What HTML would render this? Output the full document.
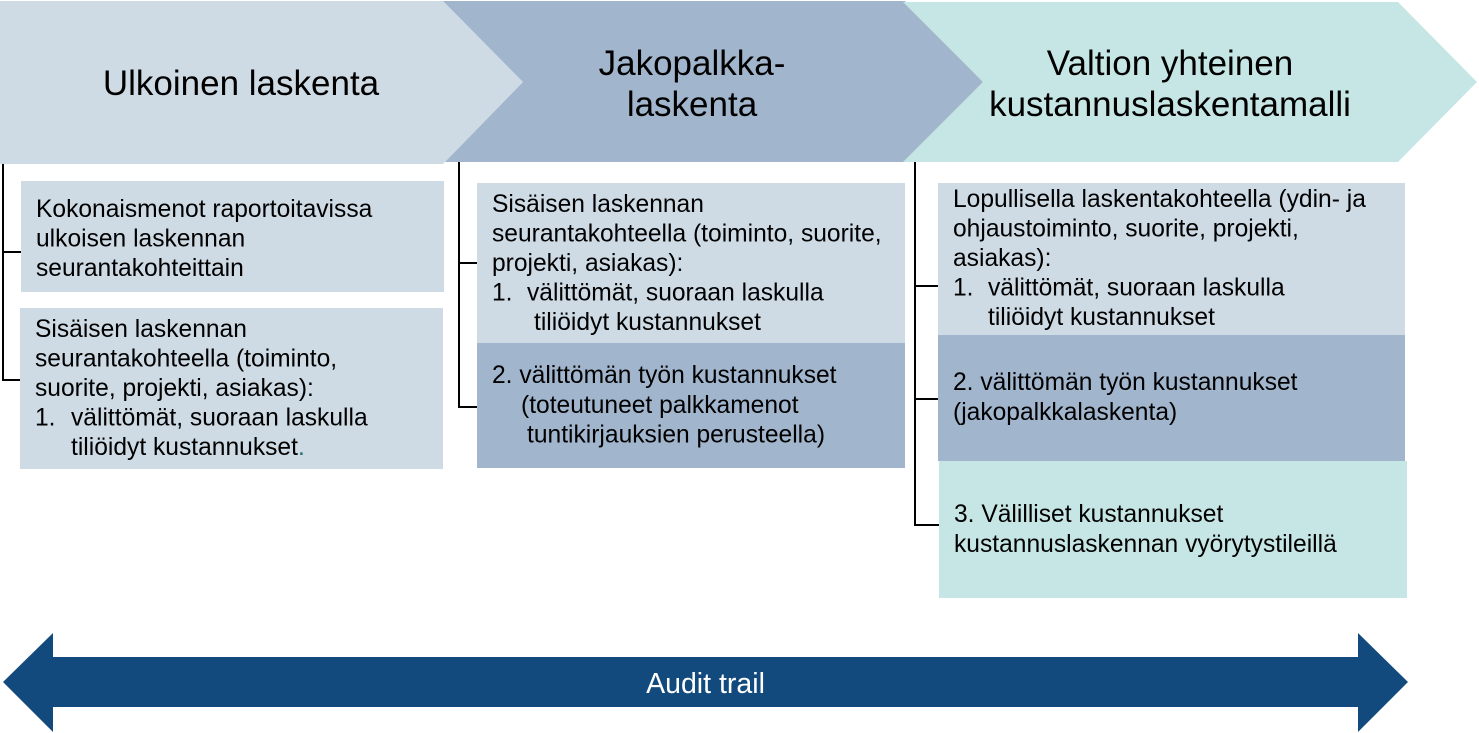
<!DOCTYPE html>
<html>
<head>
<meta charset="utf-8">
<style>
  html, body { margin: 0; padding: 0; background: #ffffff; }
  body { width: 1479px; height: 733px; overflow: hidden; }
  svg { display: block; }
  text { font-family: "Liberation Sans", Arial, sans-serif; fill: #000; }
</style>
</head>
<body>
<svg width="1479" height="733" viewBox="0 0 1479 733" xmlns="http://www.w3.org/2000/svg">
  <!-- Chevrons -->
  <polygon points="0,1 443,1 523,82 443,164 0,164" fill="#cedbe5"/>
  <polygon points="443,1 905,1 983,82 905,162 445,162 523,82" fill="#a1b5cd"/>
  <polygon points="903,2 1398,2 1477,82 1398,162 903,162 983,82" fill="#c6e6e5"/>

  <!-- Chevron titles -->
  <text x="241" y="95" font-size="35" text-anchor="middle">Ulkoinen laskenta</text>
  <text x="692" y="75" font-size="35" text-anchor="middle">Jakopalkka-</text>
  <text x="692" y="116" font-size="35" text-anchor="middle">laskenta</text>
  <text x="1170" y="75" font-size="35" text-anchor="middle">Valtion yhteinen</text>
  <text x="1170" y="116" font-size="35" text-anchor="middle">kustannuslaskentamalli</text>

  <!-- Connector lines -->
  <g stroke="#000" stroke-width="2" fill="none">
    <polyline points="3,164 3,380 20,380"/>
    <line x1="3" y1="252" x2="21" y2="252"/>
    <polyline points="459,162 459,407 477,407"/>
    <line x1="459" y1="263" x2="477" y2="263"/>
    <polyline points="915,162 915,525 939,525"/>
    <line x1="915" y1="286" x2="938" y2="286"/>
    <line x1="915" y1="399" x2="938" y2="399"/>
  </g>

  <!-- Column 1 boxes -->
  <rect x="21" y="181" width="423" height="111" fill="#cedbe5"/>
  <rect x="20" y="308" width="423" height="161" fill="#cedbe5"/>
  <g font-size="24.6">
    <text x="36" y="217">Kokonaismenot raportoitavissa</text>
    <text x="36" y="246.5">ulkoisen laskennan</text>
    <text x="36" y="276">seurantakohteittain</text>

    <text x="35" y="337">Sisäisen laskennan</text>
    <text x="35" y="366.5">seurantakohteella (toiminto,</text>
    <text x="35" y="396">suorite, projekti, asiakas):</text>
    <text x="35" y="425.5">1.</text>
    <text x="71" y="425.5">välittömät, suoraan laskulla</text>
    <text x="71" y="455">tiliöidyt kustannukset<tspan fill="#1f6f70">.</tspan></text>
  </g>

  <!-- Column 2 boxes -->
  <rect x="477" y="183" width="428" height="160" fill="#cedbe5"/>
  <rect x="477" y="343" width="428" height="125" fill="#a1b5cd"/>
  <g font-size="24.6">
    <text x="492" y="212">Sisäisen laskennan</text>
    <text x="492" y="241.5">seurantakohteella (toiminto, suorite,</text>
    <text x="492" y="271">projekti, asiakas):</text>
    <text x="492" y="300.5">1.</text>
    <text x="527" y="300.5">välittömät, suoraan laskulla</text>
    <text x="534" y="330">tiliöidyt kustannukset</text>

    <text x="492" y="383">2. välittömän työn kustannukset</text>
    <text x="521" y="413">(toteutuneet palkkamenot</text>
    <text x="527" y="442.5">tuntikirjauksien perusteella)</text>
  </g>

  <!-- Column 3 boxes -->
  <rect x="938" y="183" width="467" height="152" fill="#cedbe5"/>
  <rect x="938" y="335" width="467" height="126" fill="#a1b5cd"/>
  <rect x="939" y="461" width="468" height="137" fill="#c6e6e5"/>
  <g font-size="24.6">
    <text x="953" y="207">Lopullisella laskentakohteella (ydin- ja</text>
    <text x="953" y="236.5">ohjaustoiminto, suorite, projekti,</text>
    <text x="953" y="266">asiakas):</text>
    <text x="953" y="295.5">1.</text>
    <text x="988" y="295.5">välittömät, suoraan laskulla</text>
    <text x="988" y="325">tiliöidyt kustannukset</text>

    <text x="953" y="390">2. välittömän työn kustannukset</text>
    <text x="953" y="420">(jakopalkkalaskenta)</text>

    <text x="954" y="522">3. Välilliset kustannukset</text>
    <text x="954" y="552">kustannuslaskennan vyörytystileillä</text>
  </g>

  <!-- Audit trail double arrow -->
  <polygon points="3,682 53,633 53,657 1358,657 1358,633 1408,682 1358,732 1358,707 53,707 53,732" fill="#124a7e"/>
  <text x="705.5" y="693" font-size="28.5" text-anchor="middle" style="fill:#ffffff">Audit trail</text>
</svg>
</body>
</html>
